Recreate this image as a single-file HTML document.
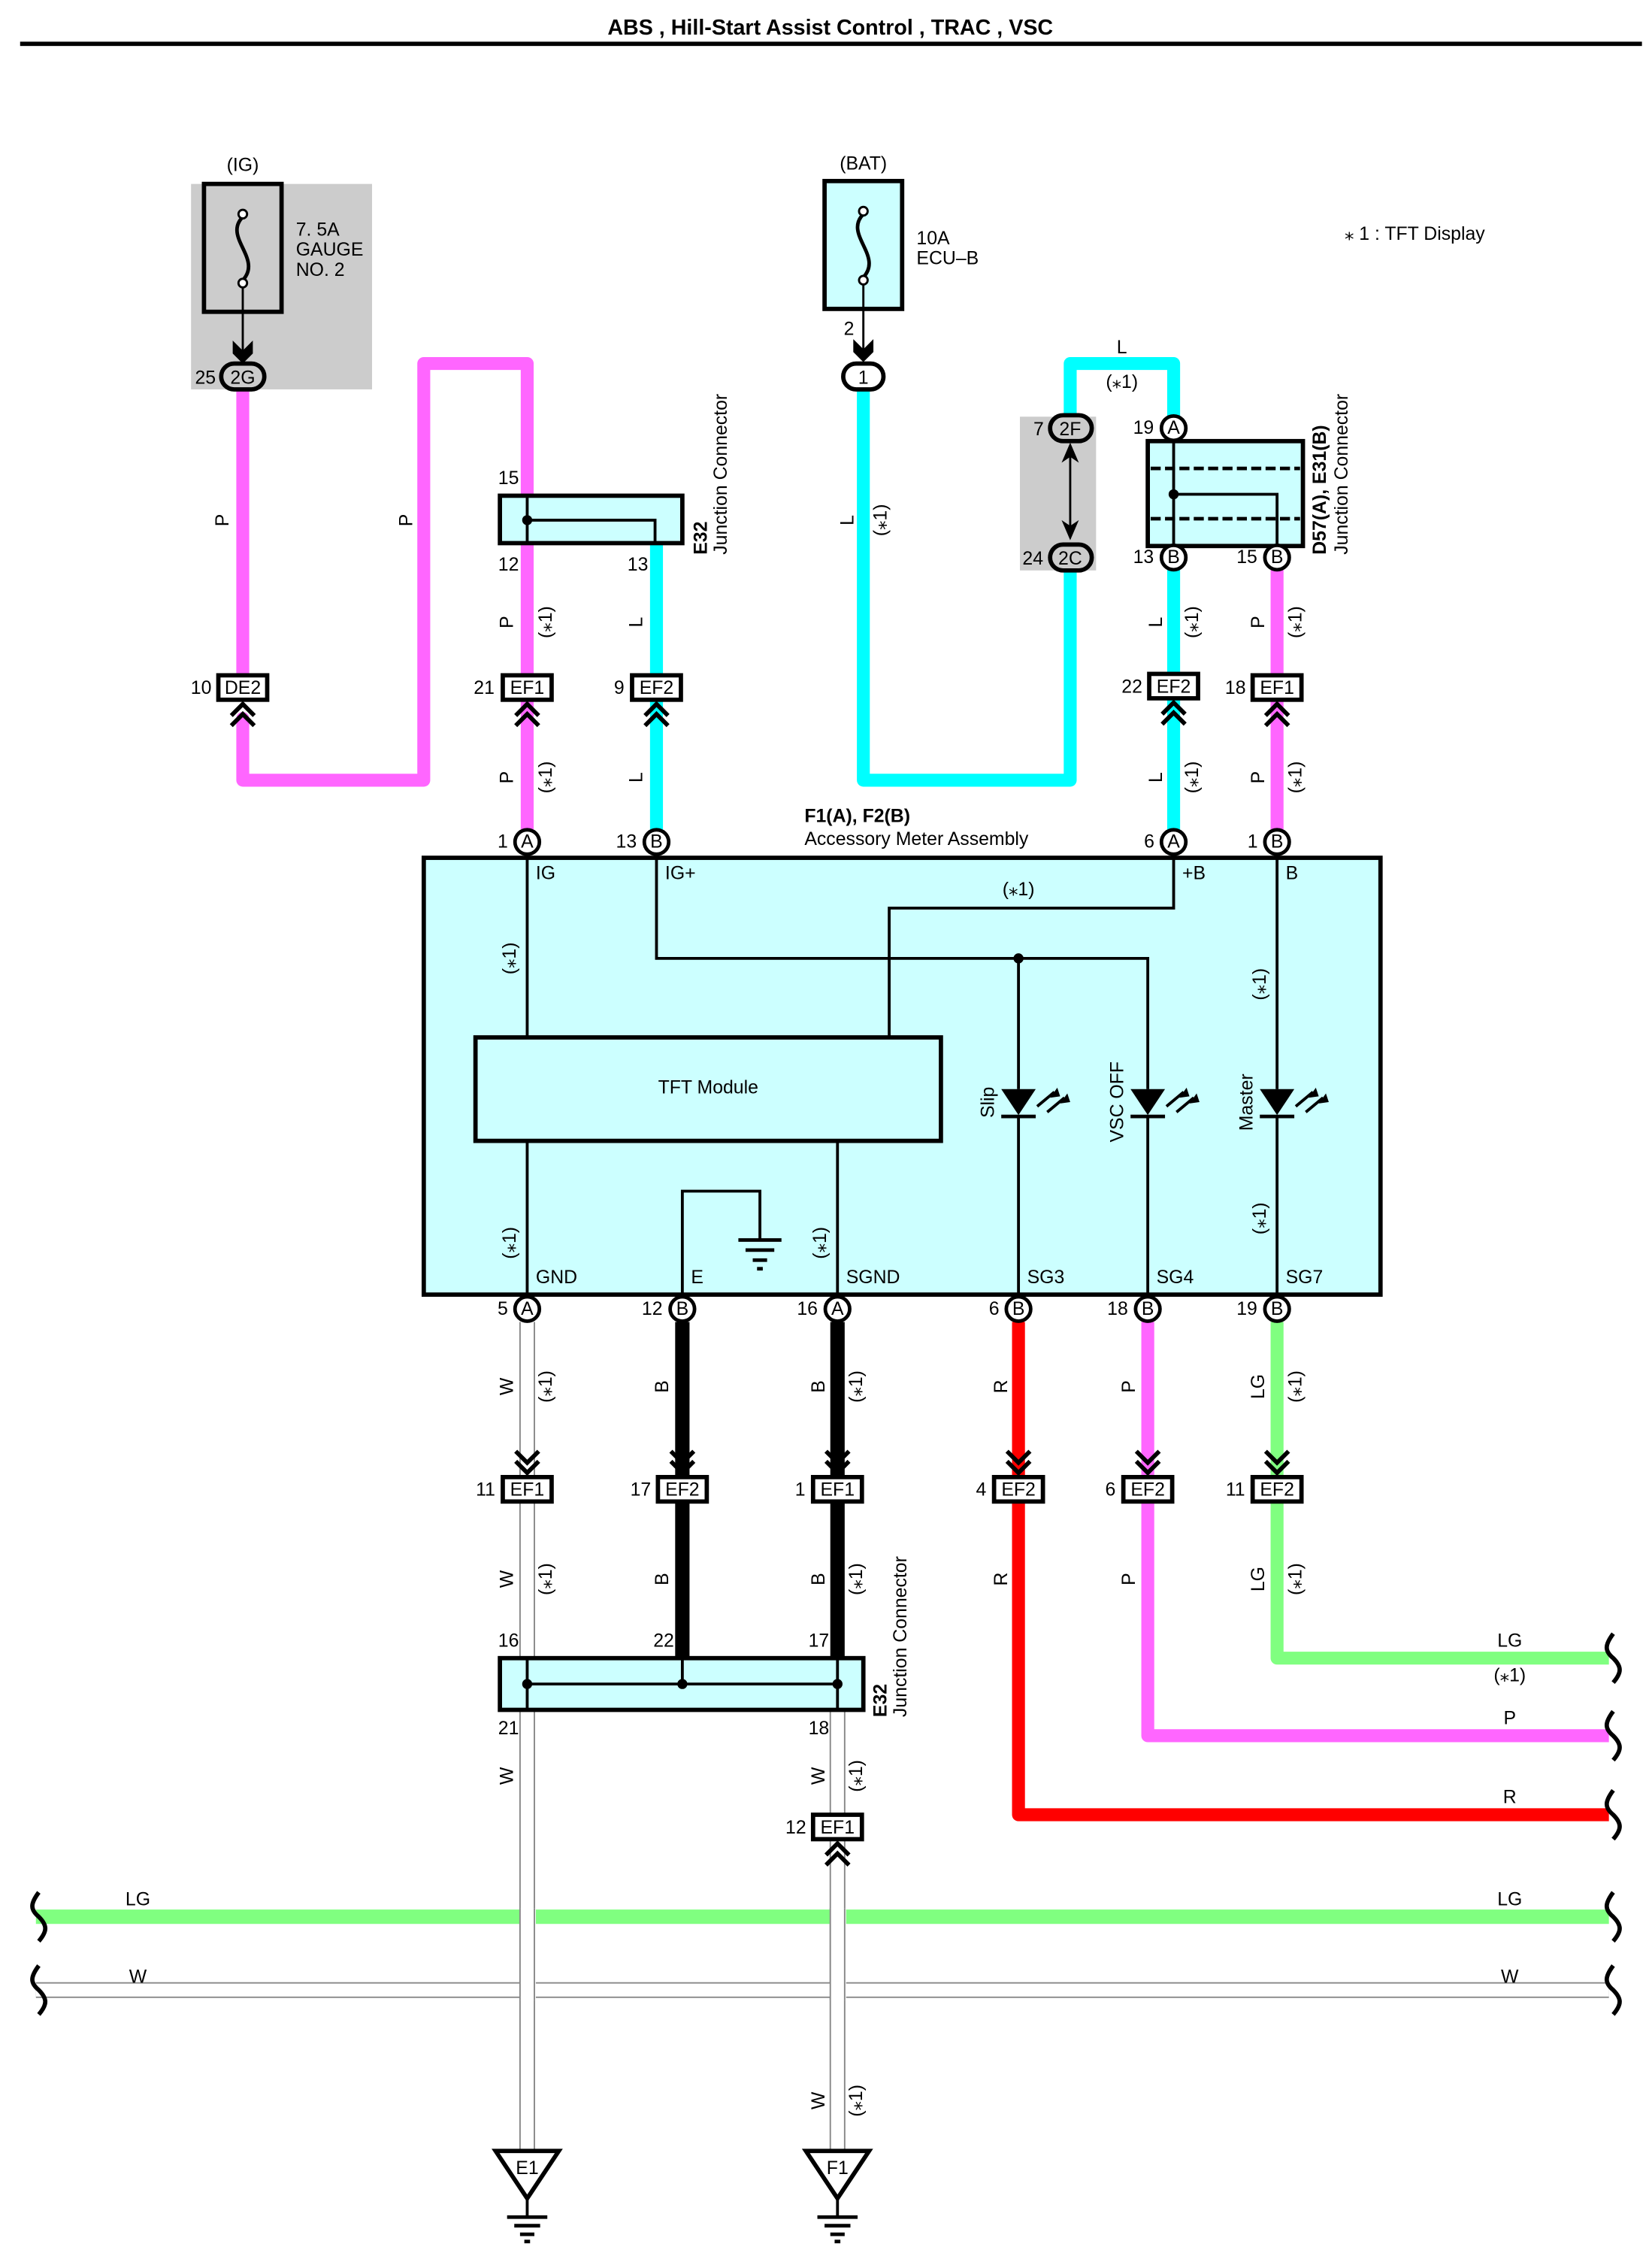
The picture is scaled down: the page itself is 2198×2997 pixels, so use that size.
<!DOCTYPE html>
<html><head><meta charset="utf-8"><style>
html,body{margin:0;padding:0;background:#fff}
svg{display:block}
text{font-family:"Liberation Sans",Arial,sans-serif;font-size:13px;fill:#000}
</style></head><body>
<svg width="2198" height="2997" viewBox="0 0 1150 1568" preserveAspectRatio="none" xmlns="http://www.w3.org/2000/svg">
<defs>
<g id="chu" fill="none" stroke="#000" stroke-width="3"><polyline points="-8,11 0,3 8,11"/><polyline points="-8,18 0,10 8,18"/></g>
<g id="chd" fill="none" stroke="#000" stroke-width="3"><polyline points="-8,-18 0,-10 8,-18"/><polyline points="-8,-11 0,-3 8,-11"/></g>
</defs>
<text x="578" y="24" text-anchor="middle" style="font-weight:bold;font-size:15px">ABS , Hill-Start Assist Control , TRAC , VSC</text>
<rect x="14" y="29" width="1129" height="3" fill="#000"/>
<text x="936" y="167" style="font-size:13px">⁎ 1 : TFT Display</text>

<rect x="133" y="128" width="126" height="143" fill="#ccc"/>
<rect x="710" y="290" width="53" height="107" fill="#ccc"/>

<g fill="none" stroke-linejoin="round" stroke-linecap="round">
<path d="M169 271 V476 M169 500 V543 H295 V253 H367 V586" stroke="#ff66ff" stroke-width="9"/>
<path d="M457 378 V586" stroke="#00ffff" stroke-width="9"/>
<path d="M601 270 V543 H745 V397 M745 298 V253 H817 V298" stroke="#00ffff" stroke-width="9"/>
<path d="M817 388 V586" stroke="#00ffff" stroke-width="9"/>
<path d="M889 388 V586" stroke="#ff66ff" stroke-width="9"/>
</g>

<text x="169" y="119" text-anchor="middle">(IG)</text>
<rect x="142" y="128" width="54" height="89" fill="none" stroke="#000" stroke-width="3"/>
<path d="M169 151 C155 165,183 180,169 195" fill="none" stroke="#000" stroke-width="2.5"/>
<circle cx="169" cy="149" r="3" fill="#fff" stroke="#000" stroke-width="1.5"/>
<circle cx="169" cy="197" r="3" fill="#fff" stroke="#000" stroke-width="1.5"/>
<line x1="169" y1="200" x2="169" y2="250" stroke="#000" stroke-width="1.5"/>
<polygon points="162,237 169,244 176,237 176,246 169,253 162,246" fill="#000"/>
<text x="206" y="164">7. 5A</text><text x="206" y="178">GAUGE</text><text x="206" y="192">NO. 2</text>
<rect x="154" y="253" width="30" height="18" rx="9" fill="#ccc" stroke="#000" stroke-width="3"/>
<text x="169" y="267" text-anchor="middle">2G</text><text x="143" y="267" text-anchor="middle">25</text>

<text x="601" y="118" text-anchor="middle">(BAT)</text>
<rect x="574" y="126" width="54" height="89" fill="#ccffff" stroke="#000" stroke-width="3"/>
<path d="M601 149 C587 163,615 178,601 193" fill="none" stroke="#000" stroke-width="2.5"/>
<circle cx="601" cy="147" r="3" fill="#fff" stroke="#000" stroke-width="1.5"/>
<circle cx="601" cy="195" r="3" fill="#fff" stroke="#000" stroke-width="1.5"/>
<line x1="601" y1="198" x2="601" y2="250" stroke="#000" stroke-width="1.5"/>
<polygon points="594,236 601,243 608,236 608,245 601,252 594,245" fill="#000"/>
<text x="638" y="170">10A</text><text x="638" y="184">ECU–B</text>
<text x="591" y="233" text-anchor="middle">2</text>
<rect x="587" y="253" width="28" height="18" rx="9" fill="#fff" stroke="#000" stroke-width="3"/>
<text x="601" y="267" text-anchor="middle">1</text>
<text x="781" y="246" text-anchor="middle">L</text><text x="781" y="270" text-anchor="middle">(⁎1)</text>

<rect x="731" y="289" width="29" height="18" rx="9" fill="#ccc" stroke="#000" stroke-width="3"/>
<text x="745" y="303" text-anchor="middle">2F</text><text x="723" y="303" text-anchor="middle">7</text>
<rect x="731" y="379" width="29" height="18" rx="9" fill="#ccc" stroke="#000" stroke-width="3"/>
<text x="745" y="393" text-anchor="middle">2C</text><text x="719" y="393" text-anchor="middle">24</text>
<line x1="745" y1="312" x2="745" y2="374" stroke="#000" stroke-width="1.5"/>
<polygon points="739,322 745,308 751,322 745,318" fill="#000"/>
<polygon points="739,362 745,376 751,362 745,366" fill="#000"/>

<rect x="348" y="345" width="127" height="33" fill="#ccffff" stroke="#000" stroke-width="3"/>
<path d="M367 345 V378 M367 362 H456 V378" fill="none" stroke="#000" stroke-width="2"/>
<circle cx="367" cy="362" r="3.5" fill="#000"/>
<text x="354" y="337" text-anchor="middle">15</text><text x="354" y="397" text-anchor="middle">12</text><text x="444" y="397" text-anchor="middle">13</text>
<g transform="translate(492,386) rotate(-90)"><text style="font-weight:bold;font-size:13px">E32</text></g>
<g transform="translate(506,386) rotate(-90)"><text style="font-size:13px">Junction Connector</text></g>

<rect x="799" y="307" width="108" height="73" fill="#ccffff" stroke="#000" stroke-width="3"/>
<line x1="801" y1="326" x2="905" y2="326" stroke="#000" stroke-width="2.5" stroke-dasharray="7,3"/>
<line x1="801" y1="361" x2="905" y2="361" stroke="#000" stroke-width="2.5" stroke-dasharray="7,3"/>
<path d="M817 307 V380 M817 344 H889 V380" fill="none" stroke="#000" stroke-width="2"/>
<circle cx="817" cy="344" r="3.5" fill="#000"/>
<g transform="translate(923,386) rotate(-90)"><text style="font-weight:bold;font-size:13px">D57(A), E31(B)</text></g>
<g transform="translate(938,386) rotate(-90)"><text style="font-size:13px">Junction Connector</text></g>

<rect x="295" y="597" width="666" height="304" fill="#ccffff" stroke="#000" stroke-width="3"/>
<text x="560" y="572" style="font-weight:bold">F1(A), F2(B)</text>
<text x="560" y="588">Accessory Meter Assembly</text>
<g fill="none" stroke="#000" stroke-width="2">
<path d="M367 597 V722 M457 597 V667 H799 V758 M709 667 V758 M817 597 V632 H619 V722 M889 597 V758"/>
<path d="M367 794 V901 M583 794 V901 M709 776 V901 M799 776 V901 M889 776 V901"/>
<path d="M475 901 V829 H529 V862"/>
</g>
<circle cx="709" cy="667" r="3.5" fill="#000"/>
<g stroke="#000" stroke-width="2.5"><line x1="514" y1="863" x2="544" y2="863"/><line x1="519" y1="870" x2="539" y2="870"/><line x1="524" y1="877" x2="534" y2="877"/><line x1="527" y1="883" x2="531" y2="883"/></g>
<rect x="331" y="722" width="324" height="72" fill="#ccffff" stroke="#000" stroke-width="3"/>
<text x="493" y="761" text-anchor="middle">TFT Module</text>
<g id="led">
<polygon points="697,758 721,758 709,776" fill="#000"/><line x1="697" y1="777" x2="721" y2="777" stroke="#000" stroke-width="2.5"/>
<path d="M722 770 L734 760 M729 774 L741 764" stroke="#000" stroke-width="2"/>
<polygon points="736,757 731,764 738,763" fill="#000"/><polygon points="743,761 738,768 745,767" fill="#000"/>
</g>
<use href="#led" x="90"/><use href="#led" x="180"/>
<g transform="translate(692,778) rotate(-90)"><text>Slip</text></g>
<g transform="translate(782,795) rotate(-90)"><text>VSC OFF</text></g>
<g transform="translate(872,787) rotate(-90)"><text>Master</text></g>
<text x="709" y="623" text-anchor="middle">(⁎1)</text>
<text x="373" y="612">IG</text><text x="463" y="612">IG+</text><text x="823" y="612">+B</text><text x="895" y="612">B</text>
<text x="373" y="893">GND</text><text x="481" y="893">E</text><text x="589" y="893">SGND</text><text x="715" y="893">SG3</text><text x="805" y="893">SG4</text><text x="895" y="893">SG7</text>

<g fill="none" stroke-linejoin="round">
<path d="M367 920 V1497" stroke="#888" stroke-width="11"/><path d="M367 920 V1497" stroke="#fff" stroke-width="9"/>
<path d="M583 1190 V1497" stroke="#888" stroke-width="11"/><path d="M583 1190 V1497" stroke="#fff" stroke-width="9"/>
<path d="M475 920 V1154 M583 920 V1154" stroke="#000" stroke-width="10"/>
<path d="M709 920 V1263 H1120" stroke="#ff0000" stroke-width="9"/>
<path d="M799 920 V1208 H1120" stroke="#ff66ff" stroke-width="9"/>
<path d="M889 920 V1154 H1120" stroke="#80ff80" stroke-width="9"/>
<path d="M25 1334 H1120" stroke="#80ff80" stroke-width="10"/>
<path d="M25 1385 H1120" stroke="#888" stroke-width="11"/><path d="M25 1385 H1120" stroke="#fff" stroke-width="9"/>
</g>
<rect x="362" y="1328" width="11" height="64" fill="#fff"/><line x1="362" y1="1328" x2="362" y2="1392" stroke="#888"/><line x1="372" y1="1328" x2="372" y2="1392" stroke="#888"/>
<rect x="578" y="1328" width="11" height="64" fill="#fff"/><line x1="578" y1="1328" x2="578" y2="1392" stroke="#888"/><line x1="588" y1="1328" x2="588" y2="1392" stroke="#888"/>
<g fill="none" stroke="#000" stroke-width="3">
<path d="M1123 1137 c-6 8,-6 12,0 17 c6 6,6 10,0 17"/>
<path d="M1123 1191 c-6 8,-6 12,0 17 c6 6,6 10,0 17"/>
<path d="M1123 1246 c-6 8,-6 12,0 17 c6 6,6 10,0 17"/>
<path d="M1123 1317 c-6 8,-6 12,0 17 c6 6,6 10,0 17"/>
<path d="M1123 1368 c-6 8,-6 12,0 17 c6 6,6 10,0 17"/>
<path d="M27 1317 c-6 8,-6 12,0 17 c6 6,6 10,0 17"/>
<path d="M27 1368 c-6 8,-6 12,0 17 c6 6,6 10,0 17"/>
</g>
<text x="1051" y="1146" text-anchor="middle">LG</text><text x="1051" y="1170" text-anchor="middle">(⁎1)</text>
<text x="1051" y="1200" text-anchor="middle">P</text><text x="1051" y="1255" text-anchor="middle">R</text>
<text x="96" y="1326" text-anchor="middle">LG</text><text x="1051" y="1326" text-anchor="middle">LG</text>
<text x="96" y="1380" text-anchor="middle">W</text><text x="1051" y="1380" text-anchor="middle">W</text>

<rect x="348" y="1154" width="253" height="36" fill="#ccffff" stroke="#000" stroke-width="3"/>
<path d="M367 1154 V1190 M583 1154 V1190 M475 1154 V1172 M367 1172 H583" fill="none" stroke="#000" stroke-width="2"/>
<circle cx="367" cy="1172" r="3.5" fill="#000"/><circle cx="475" cy="1172" r="3.5" fill="#000"/><circle cx="583" cy="1172" r="3.5" fill="#000"/>
<text x="354" y="1146" text-anchor="middle">16</text><text x="462" y="1146" text-anchor="middle">22</text><text x="570" y="1146" text-anchor="middle">17</text>
<text x="354" y="1207" text-anchor="middle">21</text><text x="570" y="1207" text-anchor="middle">18</text>
<g transform="translate(617,1195) rotate(-90)"><text style="font-weight:bold;font-size:13px">E32</text></g>
<g transform="translate(631,1195) rotate(-90)"><text style="font-size:13px">Junction Connector</text></g>

<g id="gnd">
<polygon points="345,1497 389,1497 367,1530" fill="#fff" stroke="#000" stroke-width="3"/>
<line x1="367" y1="1530" x2="367" y2="1543" stroke="#000" stroke-width="2"/>
<g stroke="#000" stroke-width="2.5"><line x1="353" y1="1543" x2="381" y2="1543"/><line x1="358" y1="1549" x2="376" y2="1549"/><line x1="362" y1="1555" x2="372" y2="1555"/><line x1="365" y1="1560" x2="369" y2="1560"/></g>
</g>
<use href="#gnd" x="216"/>
<text x="367" y="1513" text-anchor="middle">E1</text><text x="583" y="1513" text-anchor="middle">F1</text>

<g fill="#fff" stroke="#000" stroke-width="3">
<rect x="152" y="470" width="34" height="17"/><rect x="350" y="470" width="34" height="17"/><rect x="440" y="470" width="34" height="17"/>
<rect x="800" y="469" width="34" height="17"/><rect x="872" y="470" width="34" height="17"/>
<rect x="350" y="1028" width="34" height="17"/><rect x="458" y="1028" width="34" height="17"/><rect x="566" y="1028" width="34" height="17"/>
<rect x="692" y="1028" width="34" height="17"/><rect x="782" y="1028" width="34" height="17"/><rect x="872" y="1028" width="34" height="17"/>
<rect x="566" y="1263" width="34" height="17"/>
</g>
<g text-anchor="middle">
<text x="169" y="483">DE2</text><text x="140" y="483">10</text>
<text x="367" y="483">EF1</text><text x="337" y="483">21</text>
<text x="457" y="483">EF2</text><text x="431" y="483">9</text>
<text x="817" y="482">EF2</text><text x="788" y="482">22</text>
<text x="889" y="483">EF1</text><text x="860" y="483">18</text>
<text x="367" y="1041">EF1</text><text x="338" y="1041">11</text>
<text x="475" y="1041">EF2</text><text x="446" y="1041">17</text>
<text x="583" y="1041">EF1</text><text x="557" y="1041">1</text>
<text x="709" y="1041">EF2</text><text x="683" y="1041">4</text>
<text x="799" y="1041">EF2</text><text x="773" y="1041">6</text>
<text x="889" y="1041">EF2</text><text x="860" y="1041">11</text>
<text x="583" y="1276">EF1</text><text x="554" y="1276">12</text>
</g>
<use href="#chu" x="169" y="487"/><use href="#chu" x="367" y="487"/><use href="#chu" x="457" y="487"/><use href="#chu" x="817" y="486"/><use href="#chu" x="889" y="487"/><use href="#chu" x="583" y="1280"/>
<use href="#chd" x="367" y="1028"/><use href="#chd" x="475" y="1028"/><use href="#chd" x="583" y="1028"/><use href="#chd" x="709" y="1028"/><use href="#chd" x="799" y="1028"/><use href="#chd" x="889" y="1028"/>

<g fill="#fff" stroke="#000" stroke-width="2.5">
<circle cx="367" cy="586" r="8.5"/><circle cx="457" cy="586" r="8.5"/><circle cx="817" cy="586" r="8.5"/><circle cx="889" cy="586" r="8.5"/>
<circle cx="817" cy="298" r="8.5"/><circle cx="817" cy="388" r="8.5"/><circle cx="889" cy="388" r="8.5"/>
<circle cx="367" cy="911" r="8.5"/><circle cx="475" cy="911" r="8.5"/><circle cx="583" cy="911" r="8.5"/><circle cx="709" cy="911" r="8.5"/><circle cx="799" cy="911" r="8.5"/><circle cx="889" cy="911" r="8.5"/>
</g>
<g text-anchor="middle">
<text x="367" y="590">A</text><text x="350" y="590">1</text>
<text x="457" y="590">B</text><text x="436" y="590">13</text>
<text x="817" y="590">A</text><text x="800" y="590">6</text>
<text x="889" y="590">B</text><text x="872" y="590">1</text>
<text x="817" y="302">A</text><text x="796" y="302">19</text>
<text x="817" y="392">B</text><text x="796" y="392">13</text>
<text x="889" y="392">B</text><text x="868" y="392">15</text>
<text x="367" y="915">A</text><text x="350" y="915">5</text>
<text x="475" y="915">B</text><text x="454" y="915">12</text>
<text x="583" y="915">A</text><text x="562" y="915">16</text>
<text x="709" y="915">B</text><text x="692" y="915">6</text>
<text x="799" y="915">B</text><text x="778" y="915">18</text>
<text x="889" y="915">B</text><text x="868" y="915">19</text>
</g>

<g text-anchor="middle">
<g transform="translate(159,362) rotate(-90)"><text>P</text></g>
<g transform="translate(287,362) rotate(-90)"><text>P</text></g>
<g transform="translate(357,433) rotate(-90)"><text>P</text></g><g transform="translate(384,433) rotate(-90)"><text>(⁎1)</text></g>
<g transform="translate(357,541) rotate(-90)"><text>P</text></g><g transform="translate(384,541) rotate(-90)"><text>(⁎1)</text></g>
<g transform="translate(447,433) rotate(-90)"><text>L</text></g><g transform="translate(447,541) rotate(-90)"><text>L</text></g>
<g transform="translate(594,362) rotate(-90)"><text>L</text></g><g transform="translate(617,362) rotate(-90)"><text>(⁎1)</text></g>
<g transform="translate(809,433) rotate(-90)"><text>L</text></g><g transform="translate(834,433) rotate(-90)"><text>(⁎1)</text></g>
<g transform="translate(809,541) rotate(-90)"><text>L</text></g><g transform="translate(834,541) rotate(-90)"><text>(⁎1)</text></g>
<g transform="translate(880,433) rotate(-90)"><text>P</text></g><g transform="translate(906,433) rotate(-90)"><text>(⁎1)</text></g>
<g transform="translate(880,541) rotate(-90)"><text>P</text></g><g transform="translate(906,541) rotate(-90)"><text>(⁎1)</text></g>
<g transform="translate(359,667) rotate(-90)"><text>(⁎1)</text></g>
<g transform="translate(359,865) rotate(-90)"><text>(⁎1)</text></g>
<g transform="translate(575,865) rotate(-90)"><text>(⁎1)</text></g>
<g transform="translate(881,685) rotate(-90)"><text>(⁎1)</text></g>
<g transform="translate(881,848) rotate(-90)"><text>(⁎1)</text></g>
<g transform="translate(357,965) rotate(-90)"><text>W</text></g><g transform="translate(384,965) rotate(-90)"><text>(⁎1)</text></g>
<g transform="translate(465,965) rotate(-90)"><text>B</text></g>
<g transform="translate(574,965) rotate(-90)"><text>B</text></g><g transform="translate(600,965) rotate(-90)"><text>(⁎1)</text></g>
<g transform="translate(701,965) rotate(-90)"><text>R</text></g>
<g transform="translate(790,965) rotate(-90)"><text>P</text></g>
<g transform="translate(880,965) rotate(-90)"><text>LG</text></g><g transform="translate(906,965) rotate(-90)"><text>(⁎1)</text></g>
<g transform="translate(357,1099) rotate(-90)"><text>W</text></g><g transform="translate(384,1099) rotate(-90)"><text>(⁎1)</text></g>
<g transform="translate(465,1099) rotate(-90)"><text>B</text></g>
<g transform="translate(574,1099) rotate(-90)"><text>B</text></g><g transform="translate(600,1099) rotate(-90)"><text>(⁎1)</text></g>
<g transform="translate(701,1099) rotate(-90)"><text>R</text></g>
<g transform="translate(790,1099) rotate(-90)"><text>P</text></g>
<g transform="translate(880,1099) rotate(-90)"><text>LG</text></g><g transform="translate(906,1099) rotate(-90)"><text>(⁎1)</text></g>
<g transform="translate(357,1236) rotate(-90)"><text>W</text></g>
<g transform="translate(574,1236) rotate(-90)"><text>W</text></g><g transform="translate(600,1236) rotate(-90)"><text>(⁎1)</text></g>
<g transform="translate(574,1462) rotate(-90)"><text>W</text></g><g transform="translate(600,1462) rotate(-90)"><text>(⁎1)</text></g>
</g>
</svg>
</body></html>
